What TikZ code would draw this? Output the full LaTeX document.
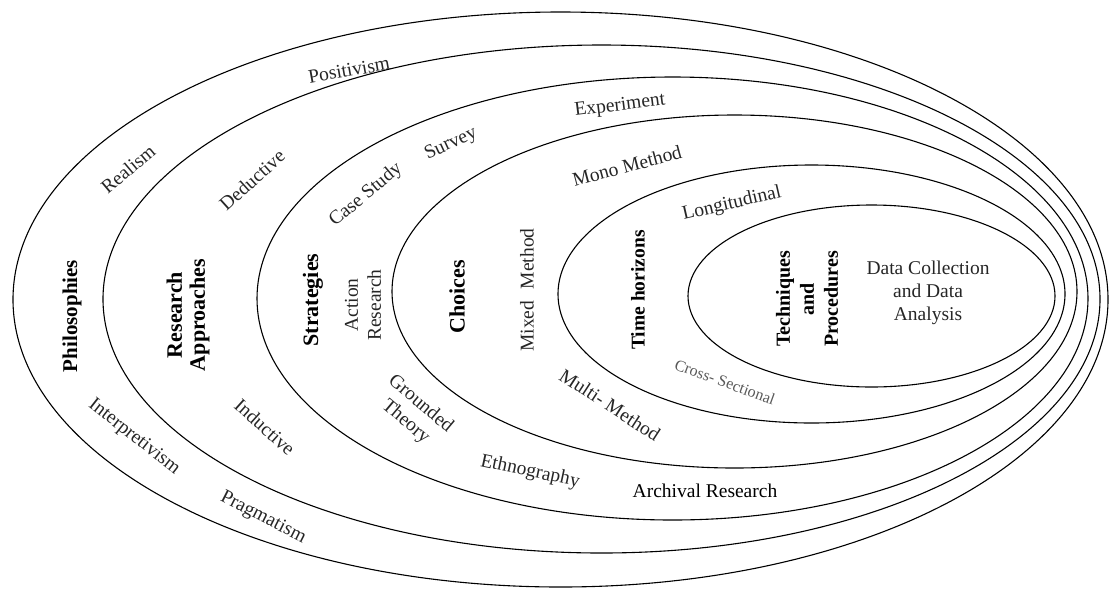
\documentclass[tikz,border=0pt]{standalone}
\usepackage{fontspec}
\setmainfont{Liberation Serif}
\begin{document}
\begin{tikzpicture}[x=1pt,y=-1pt,
  ring/.style={draw=black, line width=1.1pt},
  lbl/.style={font=\fontsize{19.5}{23}\selectfont, inner sep=0pt, align=center, text=black!85},
  blbl/.style={font=\fontsize{21}{23}\selectfont\bfseries, inner sep=0pt, align=center, rotate=90}
]
\useasboundingbox (0,0) rectangle (1110,590);
% rings
\draw[ring] (560.5,299.5) ellipse [x radius=547.5pt, y radius=287.5pt];
\draw[ring] (601.5,299) ellipse [x radius=498.5pt, y radius=254pt];
\draw[ring] (672.5,298.5) ellipse [x radius=415.5pt, y radius=221.5pt];
\draw[ring] (734.5,291.5) ellipse [x radius=342.5pt, y radius=176.5pt];
\draw[ring] (811.5,294) ellipse [x radius=253.5pt, y radius=129pt];
\draw[ring] (871.5,296) ellipse [x radius=183.5pt, y radius=91pt];
% upper labels
\node[lbl, rotate=10] (positivism) at (349,70) {Positivism};
\node[lbl, rotate=40] (realism) at (128,169) {Realism};
\node[lbl, rotate=42] (deductive) at (252,180) {Deductive};
\node[lbl, rotate=40] (casestudy) at (366,195) {Case Study};
\node[lbl, rotate=25] (survey) at (451,144) {Survey};
\node[lbl, rotate=7] (experiment) at (620,106) {Experiment};
\node[lbl, rotate=15] (mono) at (627,166) {Mono Method};
\node[lbl, rotate=13] (longit) at (732,204) {Longitudinal};
% layer titles
\node[blbl] (philo) at (72,316) {Philosophies};
\node[blbl, font=\fontsize{22}{23}\selectfont\bfseries] (approaches) at (188,315) {Research\\Approaches};
\node[blbl, font=\fontsize{22}{23}\selectfont\bfseries] (strategies) at (313,300) {Strategies};
\node[lbl, rotate=90] (action) at (363,305) {Action\\Research};
\node[blbl, font=\fontsize{22}{23}\selectfont\bfseries] (choices) at (457,297) {Choices};
\node[lbl, rotate=90] (mixed) at (527,290) {Mixed\hspace{0.6em}Method};
\node[blbl, font=\fontsize{19.5}{23}\selectfont\bfseries] (time) at (638,290) {Time horizons};
\node[blbl, font=\fontsize{20}{24}\selectfont\bfseries] (tech) at (807,299) {Techniques\\and\\Procedures};
\node[lbl] (data) at (928,293) {Data Collection\\and Data\\Analysis};
% lower labels
\node[lbl, rotate=-38] (interp) at (134,437) {Interpretivism};
\node[lbl, rotate=-42] (inductive) at (265,427) {Inductive};
\node[lbl, rotate=-27] (prag) at (263,518) {Pragmatism};
\node[lbl, rotate=-40] (grounded) at (413,413) {Grounded\\Theory};
\node[lbl, rotate=-12] (ethno) at (530,472) {Ethnography};
\node[lbl, rotate=-33] (multi) at (610,405) {Multi- Method};
\node[lbl, rotate=-20, font=\fontsize{16}{19}\selectfont, text=black!65] (cross) at (725,382) {Cross- Sectional};
\node[lbl, text=black] (archival) at (705,491) {Archival Research};
\end{tikzpicture}
\end{document}
